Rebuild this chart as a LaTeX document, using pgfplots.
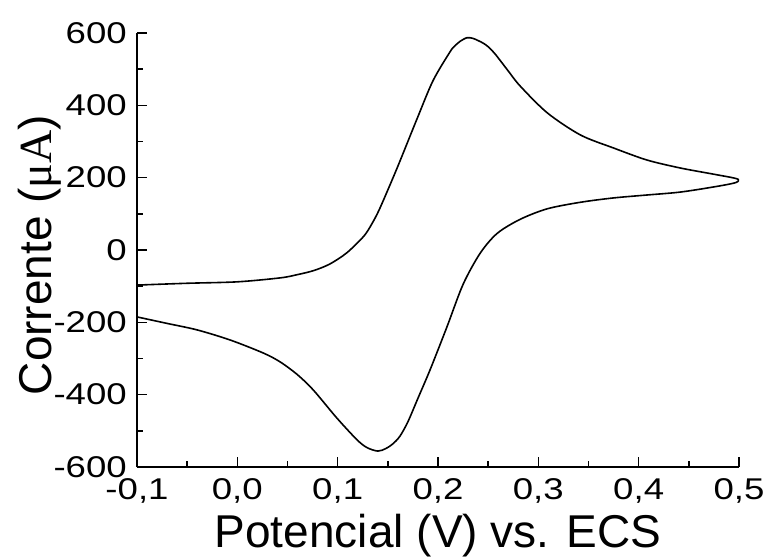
\documentclass[border=0pt]{standalone}
\usepackage{fontspec}
\setmainfont{Liberation Sans}
\newfontfamily\unitfont{Liberation Serif}
\newfontfamily\tickfont[FakeStretch=1.22]{Liberation Sans}
\usepackage{pgfplots}
\pgfplotsset{compat=1.18}
\begin{document}
\begin{tikzpicture}
\begin{axis}[
  at={(137pt,90pt)}, anchor=south west,
  scale only axis, width=602pt, height=434pt,
  xmin=-0.1, xmax=0.5, ymin=-600, ymax=600,
  axis x line*=bottom, axis y line*=left,
  axis line style={-, line width=1.8pt, black},
  xtick={-0.1,0,0.1,0.2,0.3,0.4,0.5},
  xticklabels={{-0,1},{0,0},{0,1},{0,2},{0,3},{0,4},{0,5}},
  ytick={-600,-400,-200,0,200,400,600},
  yticklabels={-600,-400,-200,0,200,400,600},
  minor x tick num=1, minor y tick num=1,
  tick align=inside,
  major tick length=10pt, minor tick length=6pt,
  every tick/.style={line width=1.6pt, black},
  ticklabel style={font=\tickfont\fontsize{30}{36}\selectfont, inner sep=0pt},
  xticklabel style={anchor=north, yshift=-11pt},
  yticklabel style={anchor=east, xshift=-10pt},
  xlabel={Potencial (V) vs. ECS},
  ylabel={Corrente ({\unitfont μA})},
  label style={font=\fontsize{46}{55}\selectfont},
  xlabel style={at={(axis description cs:0.5,-0.1850)}, anchor=base},
  ylabel style={at={(axis description cs:-0.1412,0.4885)}, anchor=base, rotate=0},
]
% cyclic voltammogram: cathodic branch left to right, then anodic branch back
\addplot[black, line width=1.6pt, smooth, tension=0.5] coordinates {
  (-0.100,-185) (-0.070,-203) (-0.040,-221) (-0.007,-249) (0.026,-285)
  (0.043,-310) (0.060,-345) (0.076,-388) (0.099,-464) (0.119,-524)
  (0.129,-546) (0.140,-556) (0.148,-549) (0.155,-536) (0.162,-515)
  (0.170,-475) (0.180,-410) (0.192,-332) (0.209,-212) (0.225,-95)
  (0.242,-9) (0.259,46) (0.282,85) (0.309,114) (0.342,132)
  (0.375,144) (0.408,152) (0.441,160) (0.474,174) (0.495,185)
  (0.500,193)
  (0.495,199) (0.474,210) (0.441,227) (0.408,249) (0.375,282)
  (0.342,318) (0.309,379) (0.282,453) (0.270,495) (0.262,524)
  (0.256,545) (0.250,562) (0.245,572) (0.240,579) (0.235,585)
  (0.229,587) (0.222,577) (0.216,562) (0.212,548) (0.195,468)
  (0.179,362) (0.159,225) (0.142,115) (0.134,72) (0.126,38)
  (0.109,-8) (0.092,-39) (0.076,-57) (0.060,-68) (0.043,-77)
  (0.000,-88) (-0.050,-92) (-0.100,-97)
};
\end{axis}
\pgfresetboundingbox
\path[use as bounding box] (0pt,0pt) rectangle (765pt,557pt);
\end{tikzpicture}
\end{document}
